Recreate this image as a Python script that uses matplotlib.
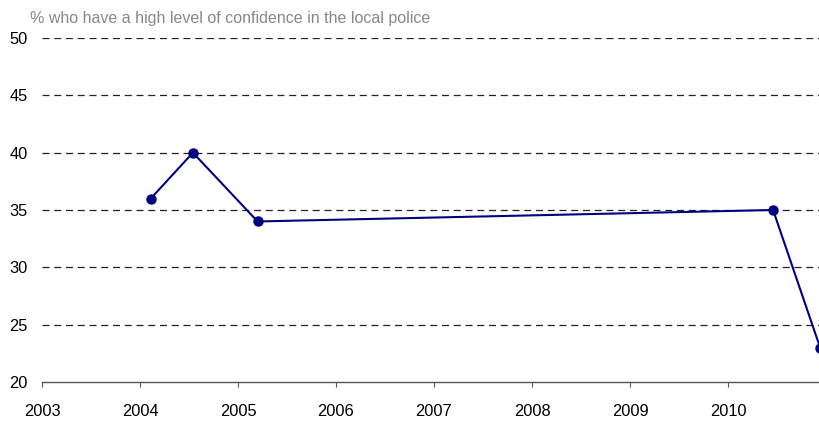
import matplotlib
matplotlib.use("Agg")
import matplotlib.pyplot as plt

years = [2004.11, 2004.54, 2005.20, 2010.46, 2010.94]
values = [36, 40, 34, 35, 23]
xticks = [2003, 2004, 2005, 2006, 2007, 2008, 2009, 2010]
yticks = [20, 25, 30, 35, 40, 45, 50]
title = "% who have a high level of confidence in the local police"

plt.rcParams['font.family'] = ['Liberation Sans', 'DejaVu Sans']

fig = plt.figure(figsize=(8.2, 4.21), dpi=100)
W, H = 820, 421
ax = fig.add_axes([42 / W, 1 - 382 / H, (820 - 42) / W, (382 - 38) / H])

for y in yticks[1:]:
    ax.axhline(y, color='#222222', lw=0.9, dashes=(5.6, 3.8), zorder=1)

ax.plot(years, values, color='#000080', lw=1.5, marker='o', ms=6.5, zorder=3, clip_on=True)

ax.set_xlim(2003, 2003 + (820 - 42) / 98)
ax.set_ylim(20, 50)
ax.set_xticks(xticks)
ax.set_yticks(yticks)
ax.tick_params(axis='y', length=0, labelsize=11.8, pad=10.5, labelcolor='black')
ax.tick_params(axis='x', direction='out', length=3.6, color='#555555', labelsize=11.8, pad=12)
for s in ['top', 'right', 'left']:
    ax.spines[s].set_visible(False)
ax.spines['bottom'].set_color('#555555')
ax.spines['bottom'].set_linewidth(1.0)

fig.text(30 / W, 1 - 18 / H, title, color='#888888', fontsize=11.5, va='center', ha='left')

fig.savefig("out.png", dpi=100)
